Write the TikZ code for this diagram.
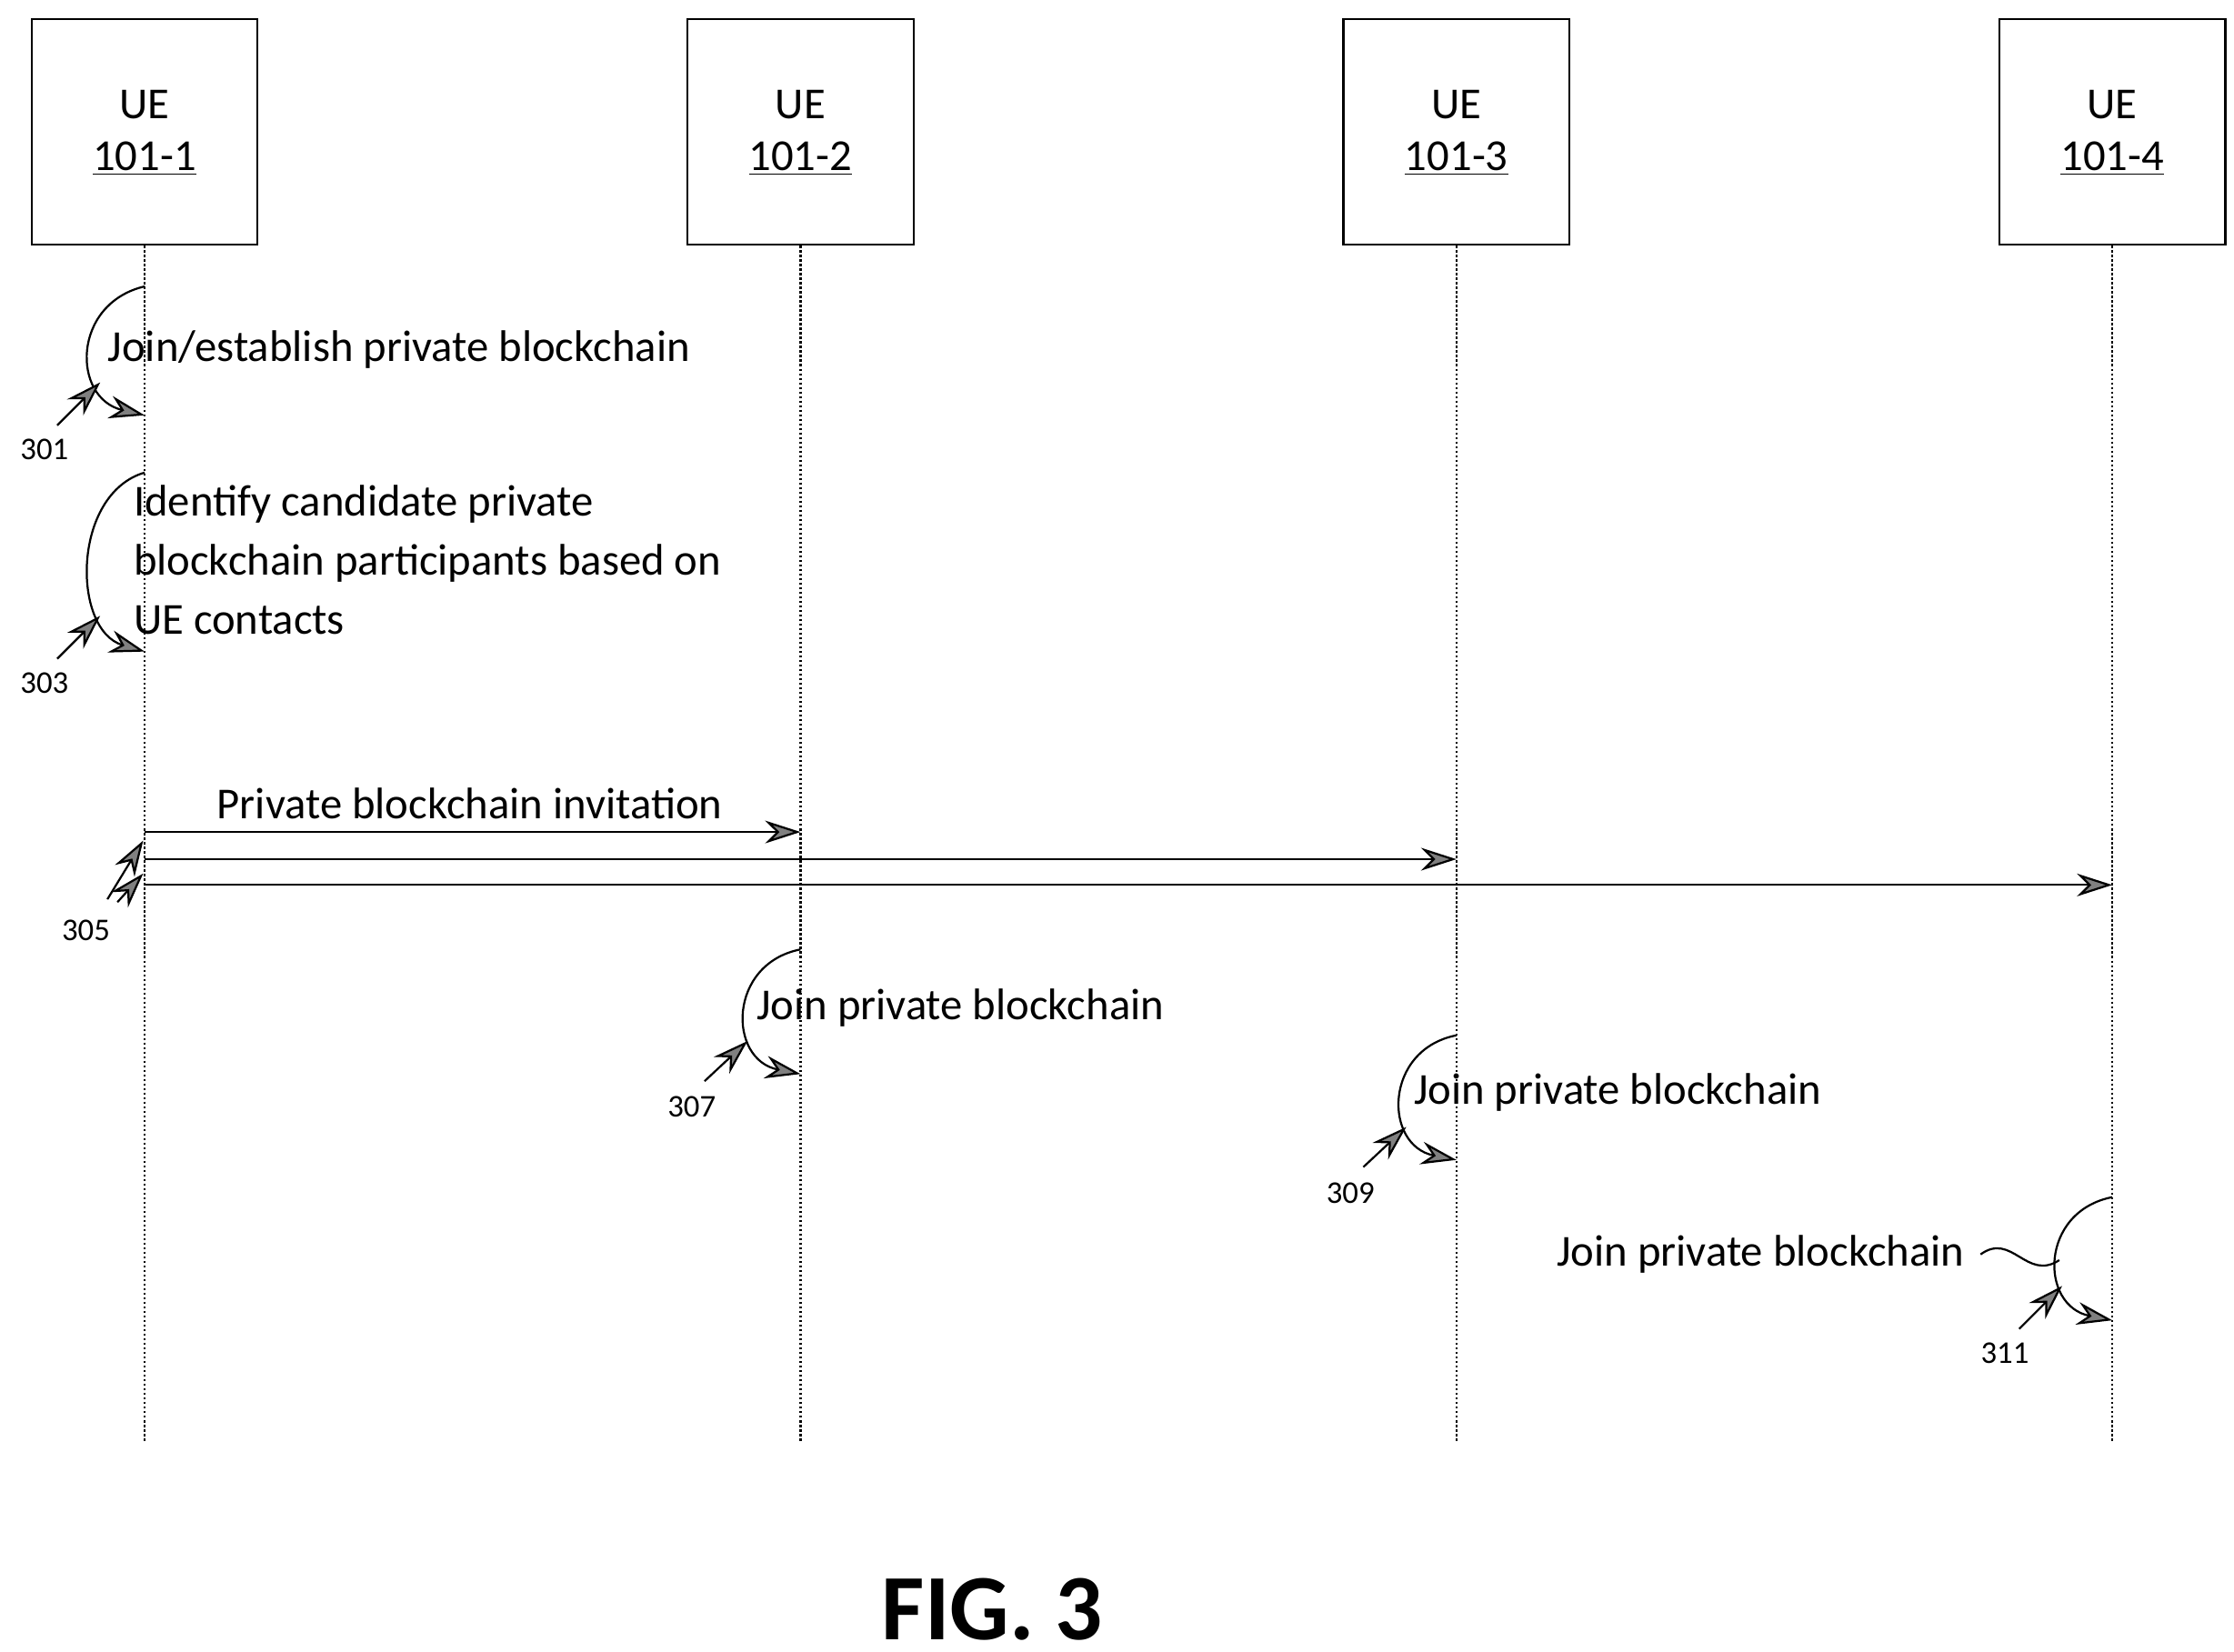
\documentclass[tikz,border=0pt]{standalone}
\usepackage{fontspec}
\setmainfont{Carlito}
\usetikzlibrary{arrows.meta}
\begin{document}
\begin{tikzpicture}[x=0.0199cm,y=-0.0199cm,
 box/.style={draw,thick,minimum width=3.14cm,minimum height=3.14cm,inner sep=0pt},
 life/.style={densely dotted,thick},
 arr/.style={thick,-{Stealth[length=14pt,width=9pt,fill=gray]}},
 txt/.style={font=\fontsize{17.5}{23.5}\selectfont,inner sep=0pt},
 num/.style={font=\fontsize{12.5}{14}\selectfont,inner sep=0pt},
 loop/.style={thick,-{Stealth[length=14pt,width=9pt,fill=gray]}}]
\useasboundingbox (0,0) rectangle (1560,1153.6);
\foreach \i/\x in {1/101,2/559,3/1017,4/1475}{
 \node[box] (b\i) at (\x,92) {};
 \node[txt] at (\x,73) {UE};
 \node[txt] at (\x,111) {\underline{101-\i}};
 \coordinate (e\i) at (\x,1007);
 \draw[life] (b\i.south) -- (e\i);
}
% 301
\coordinate (a1) at (101,200); \coordinate (a2) at (101,290);
\draw[loop] (a1) .. controls (50,212) and (50,278) .. (a2);
\node[txt,anchor=west] at (75,244) {Join/establish private blockchain};
\node[num] (n301) at (31,314) {301};
\draw[arr] (40,297) -- (70,267);
% 303
\coordinate (c1) at (101,330); \coordinate (c2) at (101,455);
\draw[loop] (c1) .. controls (50,345) and (50,440) .. (c2);
\node[txt,anchor=west,align=left] at (93,391) {Identify candidate private\\blockchain participants based on\\UE contacts};
\node[num] (n303) at (31,477) {303};
\draw[arr] (40,460) -- (70,430);
% 305
\coordinate (s1) at (101,581); \coordinate (s2) at (101,600); \coordinate (s3) at (101,618);
\draw[arr] (s1) -- (559,581);
\draw[arr] (s2) -- (1017,600);
\draw[arr] (s3) -- (1475,618);
\node[txt] at (328,561) {Private blockchain invitation};
\node[num] (n305) at (60,650) {305};
\draw[arr] (75,628) -- (100,587);
\draw[arr] (82,630) -- (100,610);
% 307
\draw[loop] (559,663) .. controls (508,673) and (508,740) .. (559,750);
\node[txt,anchor=west] at (528,704) {Join private blockchain};
\node[num] (n307) at (483,773) {307};
\draw[arr] (492,755) -- (522,727);
% 309
\draw[loop] (1017,723) .. controls (966,733) and (966,800) .. (1017,810);
\node[txt,anchor=west] at (987,763) {Join private blockchain};
\node[num] (n309) at (943,833) {309};
\draw[arr] (952,815) -- (982,787);
% 311
\draw[loop] (1475,836) .. controls (1424,846) and (1424,912) .. (1475,922);
\node[txt,anchor=east] (t311) at (1372,876) {Join private blockchain};
\draw[thick] (1383,876) .. controls (1405,860) and (1415,895) .. (1438,880);
\node[num] (n311) at (1400,945) {311};
\draw[arr] (1410,928) -- (1440,898);
\node[font=\bfseries\fontsize{37}{40}\selectfont] at (693,1124) {FIG. 3};
\end{tikzpicture}
\end{document}
